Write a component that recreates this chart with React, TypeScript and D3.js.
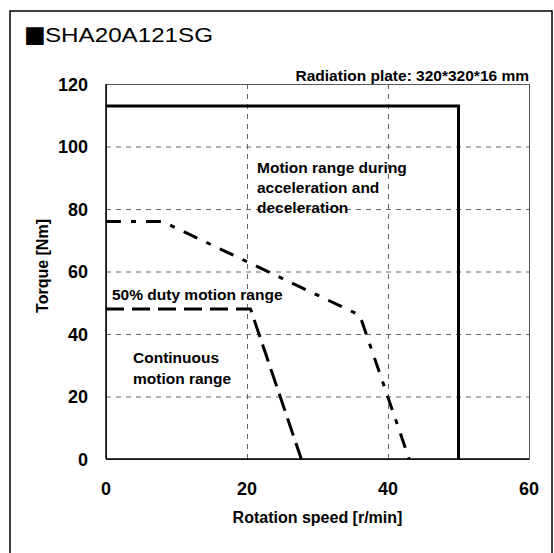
import * as d3 from "d3";

// values
const xTicks = [0, 20, 40, 60];
const yTicks = [0, 20, 40, 60, 80, 100, 120];

const accelSpeed = [0, 50, 50];
const accelTorque = [113, 113, 0];

const dutySpeed = [0, 8, 36, 43];
const dutyTorque = [76, 76, 46, 0];

const contSpeed = [0, 20.5, 27.7];
const contTorque = [48, 48, 0];

const FONT = "Arial, 'Liberation Sans', sans-serif";

export default function App() {
    const width = 554;
    const height = 553;
    const left = 106, right = 529, top = 84, bottom = 459;

    const x = d3.scaleLinear().domain([0, 60]).range([left, right]);
    const y = d3.scaleLinear().domain([0, 120]).range([bottom, top]);

    const line = d3.line<[number, number]>()
        .x(d => x(d[0]))
        .y(d => y(d[1]));

    const accel = line(accelSpeed.map((s, i) => [s, accelTorque[i]]));
    const duty = line(dutySpeed.map((s, i) => [s, dutyTorque[i]]));
    const cont = line(contSpeed.map((s, i) => [s, contTorque[i]]));

    return (
        <svg width={width} height={height} style={{position: "absolute", left: 0, top: 0, background: "#fff"}}>
            <rect x={0} y={0} width={width} height={height} fill="#fff" />
            {/* outer frame */}
            <rect x={10} y={11} width={542} height={560} fill="none" stroke="#000" strokeWidth={1.5} />

            <text x={24} y={42} fontFamily="'DejaVu Sans', sans-serif" fontSize={23} fill="#000">■</text>
            <text x={45} y={42} fontFamily={FONT} fontSize={21} fill="#000" textLength={168} lengthAdjust="spacingAndGlyphs">SHA20A121SG</text>

            {/* grid */}
            <g stroke="#666" strokeWidth={1} strokeDasharray="5,5">
                {yTicks.filter(t => t > 0 && t < 120).map(t => (
                    <line key={"gy" + t} x1={left} x2={right} y1={y(t) + 0.5} y2={y(t) + 0.5} />
                ))}
                {xTicks.filter(t => t > 0 && t < 60).map(t => (
                    <line key={"gx" + t} x1={x(t) + 0.5} x2={x(t) + 0.5} y1={top} y2={bottom} />
                ))}
            </g>
            <rect x={left + 0.5} y={top + 0.5} width={right - left} height={bottom - top} fill="none" stroke="#555" strokeWidth={1} />
            <line x1={left} x2={left} y1={top} y2={bottom} stroke="#000" strokeWidth={1.5} />
            <line x1={left} x2={right} y1={bottom} y2={bottom} stroke="#000" strokeWidth={1.5} />

            {/* curves */}
            <path d={accel ?? ""} fill="none" stroke="#000" strokeWidth={3} />
            <path d={duty ?? ""} fill="none" stroke="#000" strokeWidth={3} strokeDasharray="15,10,5,10" />
            <path d={cont ?? ""} fill="none" stroke="#000" strokeWidth={3} strokeDasharray="18,8" />

            {/* tick labels */}
            <g fontFamily={FONT} fontSize={18} fontWeight="bold" fill="#000">
                {yTicks.map(t => (
                    <text key={"ly" + t} x={88} y={y(t) + 6.5} textAnchor="end">{t}</text>
                ))}
                {xTicks.map(t => (
                    <text key={"lx" + t} x={x(t)} y={495} textAnchor="middle">{t}</text>
                ))}
            </g>

            <g fontFamily={FONT} fontSize={16} fontWeight="bold" fill="#000">
                <text x={(left + right) / 2} y={523} textAnchor="middle">Rotation speed [r/min]</text>
                <text transform={`translate(48,266) rotate(-90)`} textAnchor="middle">Torque [Nm]</text>
            </g>

            <g fontFamily={FONT} fontSize={15.5} fontWeight="bold" fill="#000">
                <text x={right} y={81} textAnchor="end">Radiation plate: 320*320*16 mm</text>
                <text x={257} y={173}>Motion range during</text>
                <text x={257} y={193}>acceleration and</text>
                <text x={257} y={213}>deceleration</text>
                <text x={112} y={300}>50% duty motion range</text>
                <text x={133} y={363}>Continuous</text>
                <text x={133} y={384}>motion range</text>
            </g>
        </svg>
    );
}
